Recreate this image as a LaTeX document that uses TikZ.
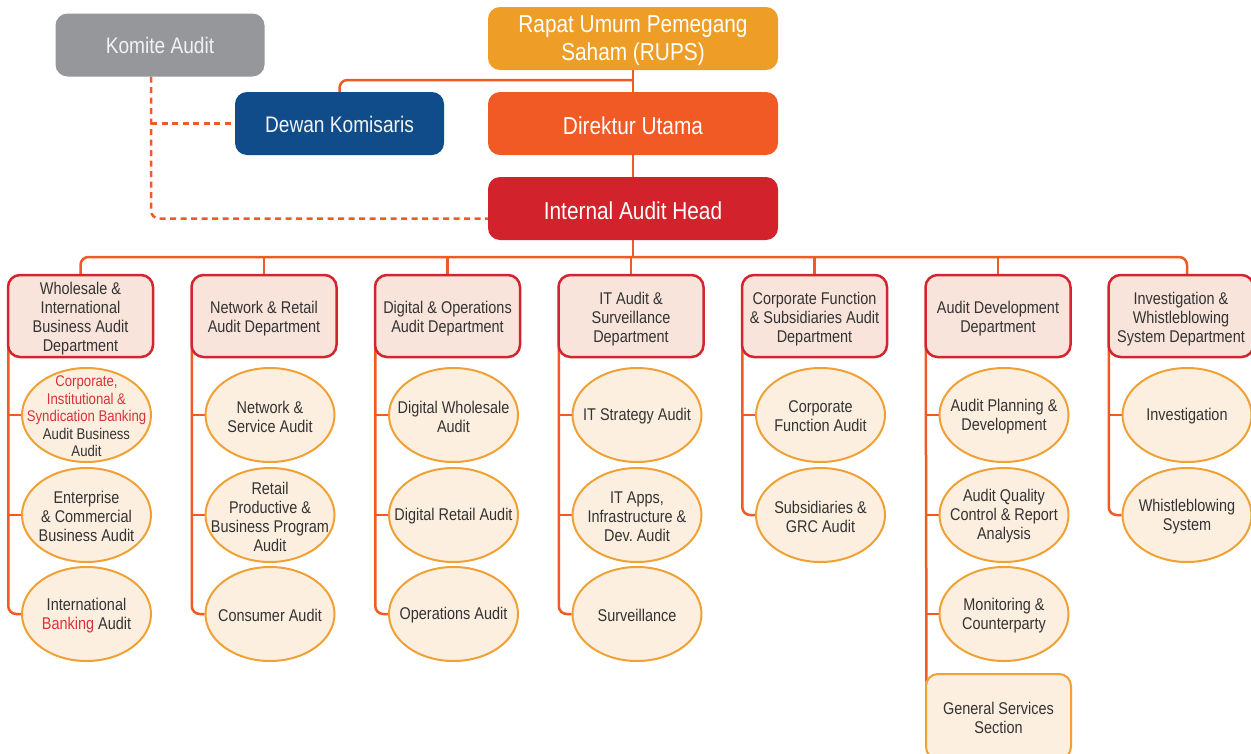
\documentclass[tikz,border=0pt]{standalone}
\usepackage{fontspec}
\setmainfont{Liberation Sans}[FakeStretch=0.85]
\usetikzlibrary{shapes.geometric}
\frenchspacing
\definecolor{lineor}{HTML}{F15A24}
\definecolor{komgrey}{HTML}{96979B}
\definecolor{dewblue}{HTML}{0F4C89}
\definecolor{rupsor}{HTML}{EE9E26}
\definecolor{dirtor}{HTML}{F15A24}
\definecolor{iahred}{HTML}{D2232D}
\definecolor{deptred}{HTML}{D4242E}
\definecolor{deptfill}{HTML}{F8E4DB}
\definecolor{unitfill}{HTML}{FDEFDF}
\definecolor{unitline}{HTML}{F0A135}
\definecolor{txtgrey}{HTML}{333333}
\definecolor{txtred}{HTML}{D9323A}
\pgfdeclarelayer{bg}
\pgfsetlayers{bg,main}
\begin{document}
\begin{tikzpicture}[x=1pt,y=-1pt,
  topbox/.style={rounded corners=12, minimum width=290, minimum height=63, inner sep=0},
  toptext/.style={text=white, align=center, inner sep=0, yshift=-2.5, font=\fontsize{24.5}{28}\selectfont},
  sidebox/.style={rounded corners=12, minimum width=209, minimum height=63, inner sep=0},
  sidetext/.style={text=white!95!black, align=center, inner sep=0, yshift=-0.5, font=\fontsize{22.5}{26}\selectfont},
  dept/.style={draw=deptred, fill=deptfill, line width=2.5, rounded corners=12,
    minimum width=145, minimum height=82, inner sep=0},
  dtext/.style={align=center, text=txtgrey, inner sep=0, yshift=-3, font=\fontsize{17}{19}\selectfont},
  unit/.style={ellipse, draw=unitline, fill=unitfill, line width=2,
    minimum width=129, minimum height=94, inner sep=0},
  utext/.style={align=center, text=txtgrey, inner sep=0, yshift=-1.5, font=\fontsize{17}{19}\selectfont},
  secbox/.style={draw=unitline, fill=unitfill, line width=2, rounded corners=12,
    minimum width=145, minimum height=85, inner sep=0},
  conn/.style={draw=lineor, line width=2.5, rounded corners=8},
  dconn/.style={draw=lineor, line width=2.5, rounded corners=8, dash pattern=on 6 off 4.5}]
\useasboundingbox (0,0) rectangle (1251,753);
\clip (0,0) rectangle (1251,753);

% top level
\node[topbox, fill=rupsor] (rups) at (633,38.5) {};
\node[toptext] (rupst) at (rups) {Rapat Umum Pemegang\\Saham (RUPS)};
\node[topbox, fill=dirtor] (dir) at (633,123.5) {};
\node[toptext] (dirt) at (dir) {Direktur Utama};
\node[topbox, fill=iahred] (iah) at (633,208.5) {};
\node[toptext] (iaht) at (iah) {Internal Audit Head};
\node[sidebox, fill=komgrey] (kom) at (160,45) {};
\node[sidetext] (komt) at (kom) {Komite Audit};
\node[sidebox, fill=dewblue] (dew) at (339.5,123.5) {};
\node[sidetext] (dewt) at (dew) {Dewan Komisaris};

% departments
\node[dept] (d1) at (80.5,316) {};
\node[dtext] (d1t) at (d1) {Wholesale \&\\International\\Business Audit\\Department};
\node[dept] (d2) at (264,316) {};
\node[dtext] (d2t) at (d2) {Network \& Retail\\Audit Department};
\node[dept] (d3) at (447.5,316) {};
\node[dtext] (d3t) at (d3) {Digital \& Operations\\Audit Department};
\node[dept] (d4) at (631,316) {};
\node[dtext] (d4t) at (d4) {IT Audit \&\\Surveillance\\Department};
\node[dept] (d5) at (814.5,316) {};
\node[dtext] (d5t) at (d5) {Corporate Function\\\& Subsidiaries Audit\\Department};
\node[dept] (d6) at (998,316) {};
\node[dtext] (d6t) at (d6) {Audit Development\\Department};
\node[dept] (d7) at (1181,316) {};
\node[dtext] (d7t) at (d7) {Investigation \&\\Whistleblowing\\System Department};

% units col 1
\node[unit] (u11) at (86.5,415) {};
\node[utext, font=\fontsize{15.5}{17.5}\selectfont] (u11t) at (u11) {\textcolor{txtred}{Corporate,}\\\textcolor{txtred}{Institutional \&}\\\textcolor{txtred}{Syndication Banking}\\Audit Business\\Audit};
\node[unit] (u12) at (86.5,515) {};
\node[utext] (u12t) at (u12) {Enterprise\\\& Commercial\\Business Audit};
\node[unit] (u13) at (86.5,614) {};
\node[utext] (u13t) at (u13) {International\\\textcolor{txtred}{Banking} Audit};
% col 2
\node[unit] (u21) at (270,415) {};
\node[utext] (u21t) at (u21) {Network \&\\Service Audit};
\node[unit] (u22) at (270,515) {};
\node[utext] (u22t) at (u22) {Retail\\Productive \&\\Business Program\\Audit};
\node[unit] (u23) at (270,614) {};
\node[utext] (u23t) at (u23) {Consumer Audit};
% col 3
\node[unit] (u31) at (453.5,415) {};
\node[utext] (u31t) at (u31) {Digital Wholesale\\Audit};
\node[unit] (u32) at (453.5,515) {};
\node[utext] (u32t) at (u32) {Digital Retail Audit};
\node[unit] (u33) at (453.5,614) {};
\node[utext] (u33t) at (u33) {Operations Audit};
% col 4
\node[unit] (u41) at (637,415) {};
\node[utext] (u41t) at (u41) {IT Strategy Audit};
\node[unit] (u42) at (637,515) {};
\node[utext] (u42t) at (u42) {IT Apps,\\Infrastructure \&\\Dev.\ Audit};
\node[unit] (u43) at (637,614) {};
\node[utext] (u43t) at (u43) {Surveillance};
% col 5
\node[unit] (u51) at (820.5,415) {};
\node[utext] (u51t) at (u51) {Corporate\\Function Audit};
\node[unit] (u52) at (820.5,515) {};
\node[utext] (u52t) at (u52) {Subsidiaries \&\\GRC Audit};
% col 6
\node[unit] (u61) at (1004,415) {};
\node[utext] (u61t) at (u61) {Audit Planning \&\\Development};
\node[unit] (u62) at (1004,515) {};
\node[utext] (u62t) at (u62) {Audit Quality\\Control \& Report\\Analysis};
\node[unit] (u63) at (1004,614) {};
\node[utext] (u63t) at (u63) {Monitoring \&\\Counterparty};
\node[secbox] (u64) at (998.5,716.5) {};
\node[utext] (u64t) at (u64) {General Services\\Section};
% col 7
\node[unit] (u71) at (1187,415) {};
\node[utext] (u71t) at (u71) {Investigation};
\node[unit] (u72) at (1187,515) {};
\node[utext] (u72t) at (u72) {Whistleblowing\\System};

\begin{pgfonlayer}{bg}
\fill[white] (0,0) rectangle (1251,753);
% top connectors
\coordinate (j1) at (633,80);
\draw[conn] (rups.south) -- (dir.north);
\draw[conn] (dir.south) -- (iah.north);
\draw[conn] (j1) -| (dew.north);
% dashed
\draw[dconn] ([xshift=-9]kom.south) |- ([yshift=-10]iah.west);
\draw[dconn] ([xshift=-9]kom.south |- dew.west) -- (dew.west);
% bus
\coordinate (bus) at (633,257);
\draw[conn] (iah.south) -- (bus);
\draw[conn] (d1.north) |- (bus) -| ([xshift=6]d7.north);
\foreach \d in {d2,d3,d4,d5,d6}{
  \draw[conn] (\d.north) -- (\d.north |- bus);
}
% trunks
\draw[conn] ([xshift=1.5,yshift=12]d1.south west) |- (u13.west);
\draw[conn] (u11.west -| d1.south west) ++(1.5,0) -- (u11.west);
\draw[conn] (u12.west -| d1.south west) ++(1.5,0) -- (u12.west);
\draw[conn] ([xshift=1.5,yshift=12]d2.south west) |- (u23.west);
\draw[conn] (u21.west -| d2.south west) ++(1.5,0) -- (u21.west);
\draw[conn] (u22.west -| d2.south west) ++(1.5,0) -- (u22.west);
\draw[conn] ([xshift=1.5,yshift=12]d3.south west) |- (u33.west);
\draw[conn] (u31.west -| d3.south west) ++(1.5,0) -- (u31.west);
\draw[conn] (u32.west -| d3.south west) ++(1.5,0) -- (u32.west);
\draw[conn] ([xshift=1.5,yshift=12]d4.south west) |- (u43.west);
\draw[conn] (u41.west -| d4.south west) ++(1.5,0) -- (u41.west);
\draw[conn] (u42.west -| d4.south west) ++(1.5,0) -- (u42.west);
\draw[conn] ([xshift=1.5,yshift=12]d5.south west) |- (u52.west);
\draw[conn] (u51.west -| d5.south west) ++(1.5,0) -- (u51.west);
\draw[conn] ([xshift=1.5,yshift=12]d6.south west) -- ([xshift=1.5,yshift=-12]u64.north west);
\draw[conn] (u61.west -| d6.south west) ++(1.5,0) -- (u61.west);
\draw[conn] (u62.west -| d6.south west) ++(1.5,0) -- (u62.west);
\draw[conn] (u63.west -| d6.south west) ++(1.5,0) -- (u63.west);
\draw[conn] ([xshift=1.5,yshift=12]d7.south west) |- (u72.west);
\draw[conn] (u71.west -| d7.south west) ++(1.5,0) -- (u71.west);
\end{pgfonlayer}
\end{tikzpicture}
\end{document}
